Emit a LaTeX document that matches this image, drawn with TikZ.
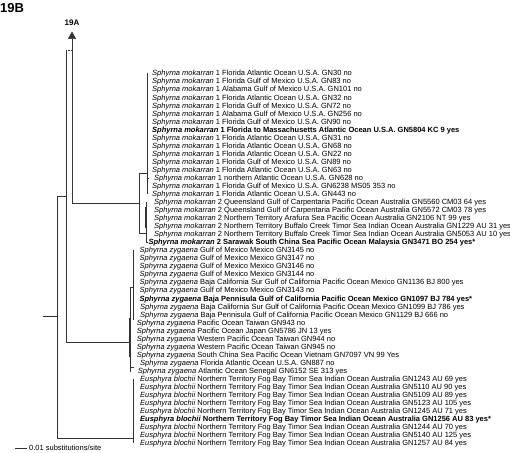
\documentclass[tikz,border=0pt]{standalone}
\usepackage{fontspec}
\setmainfont{Liberation Sans}
\usetikzlibrary{arrows.meta}
\newcommand\MySmok{\textit{Sphyrna mokarran}}
\newcommand\MySzyg{\textit{Sphyrna zygaena}}
\newcommand\MyEblo{\textit{Eusphyra blochii}}
\newcommand\MyTip[3]{\node[tiptext] (t#1) at (#2,{73.3+(#1-1)*8.04+2.6}) {#3};}
\begin{document}
\begin{tikzpicture}[x=1pt,y=-1pt,
  br/.style={line width=0.6pt,draw=black!80},
  tiptext/.style={anchor=base west,inner sep=0pt,font=\fontsize{7.5}{9}\selectfont},
  boldtip/.style={tiptext,font=\fontsize{7.5}{9}\selectfont\bfseries}]
\fill[white] (0,0) rectangle (510,452);
\useasboundingbox (0,0) rectangle (510,452);
% labels
\node[anchor=west,inner sep=0pt,font=\fontsize{13}{15}\selectfont\bfseries] (lab19B) at (0,8) {19B};
\node[inner sep=0pt,font=\fontsize{8}{10}\selectfont\bfseries] (lab19A) at (72,22.5) {19A};
% tree coordinates
\coordinate (rootstub) at (43,316);
\coordinate (root) at (57,316);
\coordinate (rootT) at (57,196);
\coordinate (rootB) at (57,438);
\coordinate (B) at (66,196);
\coordinate (BT) at (66,50.7);
\coordinate (BB) at (66,342);
\coordinate (C) at (72,50.7);
\coordinate (CB) at (72,203);
\coordinate (Ctop) at (72,31.5);
\coordinate (M) at (139,203);
\coordinate (MT) at (139,173);
\coordinate (MB) at (139,233);
\coordinate (M1) at (147,173);
\coordinate (M1T) at (147,73.3);
\coordinate (M1B) at (147,193.9);
\coordinate (M2) at (146,233);
\coordinate (M2T) at (146,201.9);
\coordinate (M2B) at (146,242.2);
\coordinate (M2Bt) at (147.8,242.2);
\coordinate (Z) at (130,342);
\coordinate (ZT) at (130,287);
\coordinate (ZB) at (130,372);
\coordinate (Z1) at (133.3,287);
\coordinate (Z1T) at (133.3,250.2);
\coordinate (Z1B) at (133.3,320);
\coordinate (ZA) at (130,366.8);
\coordinate (ZAt) at (134,366.8);
\coordinate (E) at (133.3,438);
\coordinate (ET) at (133.3,378.8);
\coordinate (EB) at (133.3,443.3);
% tree
\draw[br] (rootstub) -- (root);
\draw[br] (rootT) -- (rootB);
\draw[br] (rootT) -- (B);
\draw[br] (BT) -- (BB);
\draw[br,densely dotted] (BT) -- (C);
\draw[br,-{Triangle[width=8pt,length=7.5pt]}] (CB) -- (Ctop);
\draw[br] (CB) -- (M);
\draw[br] (MT) -- (MB);
\draw[br] (MT) -- (M1);
\draw[br] (M1T) -- (M1B);
\draw[br,line width=1pt] (147,176) -- (147,191);
\draw[br] (147,177.8) -- (149,177.8);
\draw[br] (MB) -- (M2);
\draw[br] (M2T) -- (M2B) -- (M2Bt);
\draw[br,line width=1.1pt] (146,207) -- (146,228);
\draw[br] (BB) -- (Z);
\draw[br] (ZT) -- (ZB);
\draw[br] (ZT) -- (Z1);
\draw[br] (Z1T) -- (Z1B);
\draw[br,line width=1.1pt] (130,318) -- (130,357);
\draw[br] (ZA) -- (ZAt);
\draw[br] (rootB) -- (E);
\draw[br] (ET) -- (EB);
% scale bar
\coordinate (sb1) at (15,448);
\coordinate (sb2) at (27,448);
\draw[br] (sb1) -- (sb2);
\node[anchor=west,inner sep=0pt,font=\fontsize{7.5}{9}\selectfont] (sbl) at (29,447.6) {0.01 substitutions/site};
% tips
\MyTip{1}{152}{\MySmok{} 1 Florida Atlantic Ocean U.S.A. GN30 no}
\MyTip{2}{152}{\MySmok{} 1 Florida Gulf of Mexico U.S.A. GN83 no}
\MyTip{3}{152}{\MySmok{} 1 Alabama Gulf of Mexico U.S.A. GN101 no}
\MyTip{4}{152}{\MySmok{} 1 Florida Atlantic Ocean U.S.A. GN32 no}
\MyTip{5}{152}{\MySmok{} 1 Florida Gulf of Mexico U.S.A. GN72 no}
\MyTip{6}{152}{\MySmok{} 1 Alabama Gulf of Mexico U.S.A. GN256 no}
\MyTip{7}{152}{\MySmok{} 1 Florida Gulf of Mexico U.S.A. GN90 no}
\node[boldtip] (t8) at (152,{73.3+7*8.04+2.6}) {\MySmok{} 1 Florida to Massachusetts Atlantic Ocean U.S.A. GN5804 KC 9 yes};
\MyTip{9}{152}{\MySmok{} 1 Florida Atlantic Ocean U.S.A. GN31 no}
\MyTip{10}{152}{\MySmok{} 1 Florida Atlantic Ocean U.S.A. GN68 no}
\MyTip{11}{152}{\MySmok{} 1 Florida Atlantic Ocean U.S.A. GN22 no}
\MyTip{12}{152}{\MySmok{} 1 Florida Gulf of Mexico U.S.A. GN89 no}
\MyTip{13}{152}{\MySmok{} 1 Florida Atlantic Ocean U.S.A. GN63 no}
\MyTip{14}{154}{\MySmok{} 1 northern Atlantic Ocean U.S.A. GN628 no}
\MyTip{15}{152}{\MySmok{} 1 Florida Gulf of Mexico U.S.A. GN6238 MS05 353 no}
\MyTip{16}{152}{\MySmok{} 1 Florida Atlantic Ocean U.S.A. GN443 no}
\MyTip{17}{154}{\MySmok{} 2 Queensland Gulf of Carpentaria Pacific Ocean Australia GN5560 CM03 64 yes}
\MyTip{18}{154}{\MySmok{} 2 Queensland Gulf of Carpentaria Pacific Ocean Australia GN5572 CM03 78 yes}
\MyTip{19}{154}{\MySmok{} 2 Northern Territory Arafura Sea Pacific Ocean Australia GN2106 NT 99 yes}
\MyTip{20}{154}{\MySmok{} 2 Northern Territory Buffalo Creek Timor Sea Indian Ocean Australia GN1229 AU 31 yes}
\MyTip{21}{154}{\MySmok{} 2 Northern Territory Buffalo Creek Timor Sea Indian Ocean Australia GN5053 AU 10 yes}
\node[boldtip] (t22) at (148.3,{73.3+21*8.04+2.6}) {\MySmok{} 2 Sarawak South China Sea Pacific Ocean Malaysia GN3471 BO 254 yes*};
\MyTip{23}{139.5}{\MySzyg{} Gulf of Mexico Mexico GN3145 no}
\MyTip{24}{139.5}{\MySzyg{} Gulf of Mexico Mexico GN3147 no}
\MyTip{25}{139.5}{\MySzyg{} Gulf of Mexico Mexico GN3146 no}
\MyTip{26}{139.5}{\MySzyg{} Gulf of Mexico Mexico GN3144 no}
\MyTip{27}{139.5}{\MySzyg{} Baja California Sur Gulf of California Pacific Ocean Mexico GN1136 BJ 800 yes}
\MyTip{28}{139.5}{\MySzyg{} Gulf of Mexico Mexico GN3143 no}
\node[boldtip] (t29) at (139.3,{73.3+28*8.04+2.6}) {\MySzyg{} Baja Pennisula Gulf of California Pacific Ocean Mexico GN1097 BJ 784 yes*};
\MyTip{30}{140}{\MySzyg{} Baja California Sur Gulf of California Pacific Ocean Mexico GN1099 BJ 786 yes}
\MyTip{31}{140}{\MySzyg{} Baja Pennisula Gulf of California Pacific Ocean Mexico GN1129 BJ 666 no}
\MyTip{32}{136.7}{\MySzyg{} Pacific Ocean Taiwan GN943 no}
\MyTip{33}{136.7}{\MySzyg{} Pacific Ocean Japan GN5786 JN 13 yes}
\MyTip{34}{136.7}{\MySzyg{} Western Pacific Ocean Taiwan GN944 no}
\MyTip{35}{136.7}{\MySzyg{} Western Pacific Ocean Taiwan GN945 no}
\MyTip{36}{136.7}{\MySzyg{} South China Sea Pacific Ocean Vietnam GN7097 VN 99 Yes}
\MyTip{37}{140}{\MySzyg{} Florida Atlantic Ocean U.S.A. GN887 no}
\MyTip{38}{137.7}{\MySzyg{} Atlantic Ocean Senegal GN6152 SE 313 yes}
\MyTip{39}{140}{\MyEblo{} Northern Territory Fog Bay Timor Sea Indian Ocean Australia GN1243 AU 69 yes}
\MyTip{40}{140}{\MyEblo{} Northern Territory Fog Bay Timor Sea Indian Ocean Australia GN5110 AU 90 yes}
\MyTip{41}{140}{\MyEblo{} Northern Territory Fog Bay Timor Sea Indian Ocean Australia GN5109 AU 89 yes}
\MyTip{42}{140}{\MyEblo{} Northern Territory Fog Bay Timor Sea Indian Ocean Australia GN5123 AU 105 yes}
\MyTip{43}{140}{\MyEblo{} Northern Territory Fog Bay Timor Sea Indian Ocean Australia GN1245 AU 71 yes}
\node[boldtip] (t44) at (140,{73.3+43*8.04+2.6}) {\MyEblo{} Northern Territory Fog Bay Timor Sea Indian Ocean Australia GN1256 AU 83 yes*};
\MyTip{45}{140}{\MyEblo{} Northern Territory Fog Bay Timor Sea Indian Ocean Australia GN1244 AU 70 yes}
\MyTip{46}{140}{\MyEblo{} Northern Territory Fog Bay Timor Sea Indian Ocean Australia GN5140 AU 125 yes}
\MyTip{47}{140}{\MyEblo{} Northern Territory Fog Bay Timor Sea Indian Ocean Australia GN1257 AU 84 yes}
\end{tikzpicture}
\end{document}
